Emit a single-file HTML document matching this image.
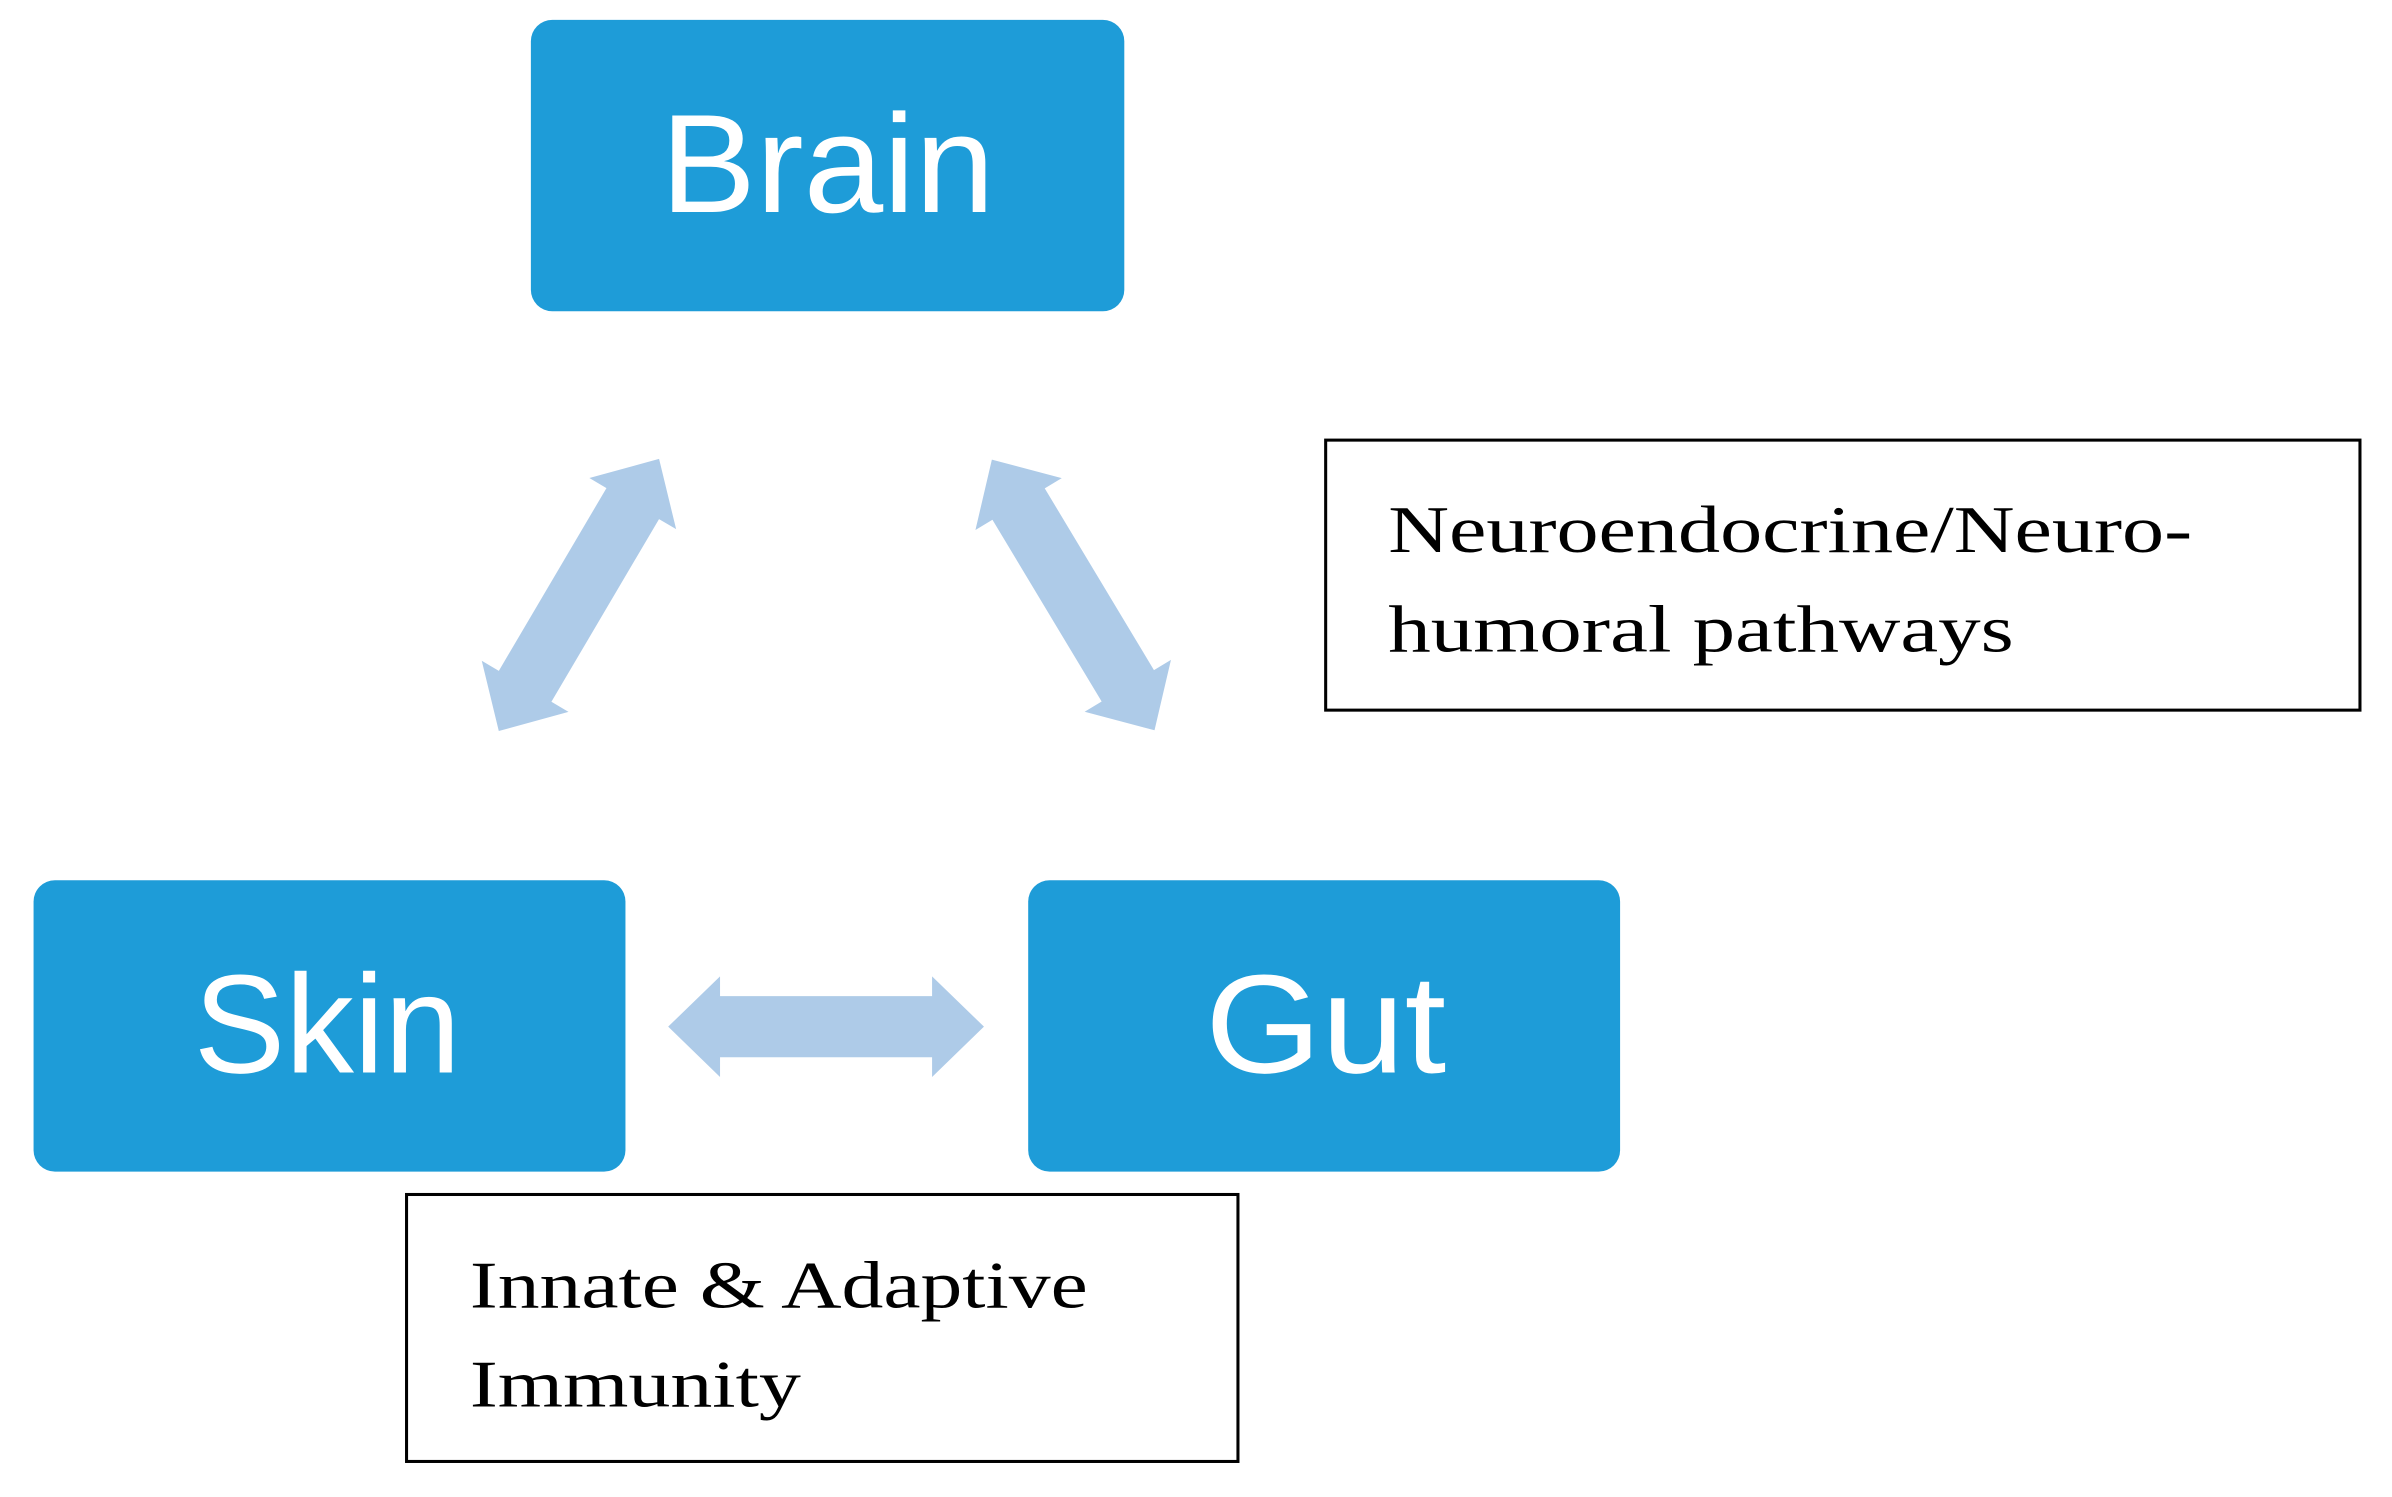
<!DOCTYPE html>
<html><head><meta charset="utf-8"><style>html,body{margin:0;padding:0;background:#fff;}svg{display:block;}</style></head>
<body>
<svg width="2392" height="1497" viewBox="0 0 1568 981.3" preserveAspectRatio="none" xmlns="http://www.w3.org/2000/svg">
<defs>
<polygon id="arr" points="-103.5,0 -69.5,-33 -69.5,-20 69.5,-20 69.5,-33 103.5,0 69.5,33 69.5,20 -69.5,20 -69.5,33" fill="#AECBE8"/>
</defs>
<rect x="348" y="13" width="389" height="191" rx="14" fill="#1E9CD8"/>
<rect x="22" y="577" width="388" height="191" rx="14" fill="#1E9CD8"/>
<rect x="674" y="577" width="388" height="191" rx="14" fill="#1E9CD8"/>
<g font-family="'Liberation Sans',sans-serif" font-size="92" fill="#fff">
<text x="433" y="139" textLength="219" lengthAdjust="spacingAndGlyphs">Brain</text>
<text x="127" y="703" textLength="175" lengthAdjust="spacingAndGlyphs">Skin</text>
<text x="790" y="703" textLength="158" lengthAdjust="spacingAndGlyphs">Gut</text>
</g>
<use href="#arr" transform="translate(541.5,673)"/>
<use href="#arr" transform="translate(379.5,390) rotate(-59.5)"/>
<use href="#arr" transform="translate(703.5,390) rotate(59)"/>
<rect x="869" y="288.5" width="678" height="177" fill="#fff" stroke="#000" stroke-width="2"/>
<rect x="266.5" y="783" width="545" height="175" fill="#fff" stroke="#000" stroke-width="2"/>
<g font-family="'Liberation Serif',serif" font-size="44" fill="#000">
<text x="910" y="362" textLength="527" lengthAdjust="spacingAndGlyphs">Neuroendocrine/Neuro-</text>
<text x="910" y="427" textLength="410" lengthAdjust="spacingAndGlyphs">humoral pathways</text>
<text x="308" y="857" textLength="405" lengthAdjust="spacingAndGlyphs">Innate &amp; Adaptive</text>
<text x="308" y="922" textLength="217" lengthAdjust="spacingAndGlyphs">Immunity</text>
</g>
</svg>
</body></html>
